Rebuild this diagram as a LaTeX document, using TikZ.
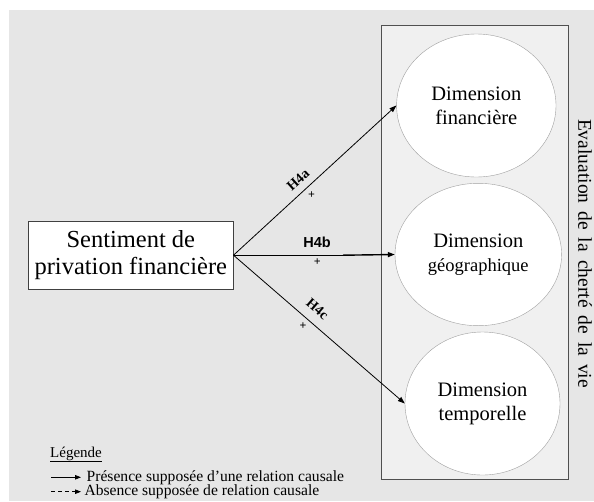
\documentclass[tikz,border=0pt]{standalone}
\usepackage{fontspec}
\setmainfont{Liberation Serif}
\newfontfamily\hsans{Liberation Sans}
\usetikzlibrary{shapes.geometric,arrows.meta}
\definecolor{bgray}{HTML}{E6E6E6}
\definecolor{panel}{HTML}{F0F0F0}
\definecolor{panelline}{HTML}{505050}
\definecolor{ellline}{HTML}{A0A0A0}
\newcommand{\widespaces}{\spaceskip=8pt plus 1pt\relax}
\tikzset{
  dimnode/.style={ellipse, draw=ellline, fill=white, inner sep=0pt, align=center,
    font=\fontsize{20.5}{24}\selectfont},
  srcbox/.style={draw=black!75, fill=white, inner sep=0pt, align=center,
    minimum width=205pt, minimum height=68pt, font=\fontsize{24.5}{27}\selectfont},
  causal/.style={-{Triangle[length=7pt,width=5pt]}, line width=0.8pt},
  hlabel/.style={font=\bfseries\fontsize{14}{16}\selectfont, inner sep=0pt},
  plus/.style={font=\bfseries\fontsize{12}{12}\selectfont, inner sep=0pt},
  legtext/.style={font=\fontsize{15.6}{17}\selectfont, inner sep=0pt, anchor=west},
}
\begin{document}
\begin{tikzpicture}[x=1pt,y=-1pt]
\useasboundingbox (0,0) rectangle (594,501);
\fill[white] (0,0) rectangle (594,501);
\fill[bgray] (9,10) rectangle (594,501);
% panel
\draw[panelline, fill=panel, line width=0.8pt] (381.7,25.7) rectangle (568.3,479);
% ellipses
\node[dimnode, minimum width=159.4pt, minimum height=143pt] (e1) at (476.3,105.5) {Dimension\\financière};
\node[dimnode, minimum width=166.6pt, minimum height=142.4pt] (e2) at (478.3,254.5) {Dimension\\{\fontsize{18.5}{21}\selectfont géographique}};
\node[dimnode, minimum width=155pt, minimum height=143pt] (e3) at (482.5,403.5) {Dimension\\temporelle};
% source
\node[srcbox] (s) at (130.8,255.2) {Sentiment de\\privation financière};
% arrows
\coordinate (mid) at (343,255.2);
\draw[causal] (s.east) -- (e1.west);
\draw[line width=0.8pt] (s.east) -- (mid);
\draw[causal, line width=1.4pt] (mid) -- (e2.west);
\draw[causal] (s.east) -- (e3.west);
% labels
\node[hlabel, rotate=42] (h4a) at (298,180) {H4a};
\node[plus] (pa) at (311.5,195.5) {+};
\node[hlabel, font=\hsans\bfseries\fontsize{14.5}{16}\selectfont] (h4b) at (317,242.7) {H4b};
\node[plus] (pb) at (317.3,261.7) {+};
\node[hlabel, rotate=-41] (h4c) at (317.5,309) {H4c};
\node[plus] (pc) at (303,326.5) {+};
% vertical title
\node[rotate=-90, inner sep=0pt, font=\fontsize{19.5}{21}\selectfont] (title) at (585,253.5) {\widespaces Evaluation de la cherté de la vie};
% legend
\node[legtext, font=\fontsize{15}{16}\selectfont, anchor=base west] (leg) at (50,457) {\underline{Légende}};
\coordinate (l1a) at (51,477.3);
\coordinate (l1b) at (81,477.3);
\draw[-{Triangle[length=6pt,width=4.5pt]}, line width=0.8pt] (l1a) -- (l1b);
\node[legtext] (t1) at (86.5,477.3) {Présence supposée d'une relation causale};
\coordinate (l2a) at (51,491.7);
\coordinate (l2b) at (81,491.7);
\draw[-{Triangle[length=6pt,width=4.5pt]}, line width=0.8pt, dash pattern=on 4pt off 3pt] (l2a) -- (l2b);
\node[legtext] (t2) at (84.3,491.7) {Absence supposée de relation causale};
\end{tikzpicture}
\end{document}
